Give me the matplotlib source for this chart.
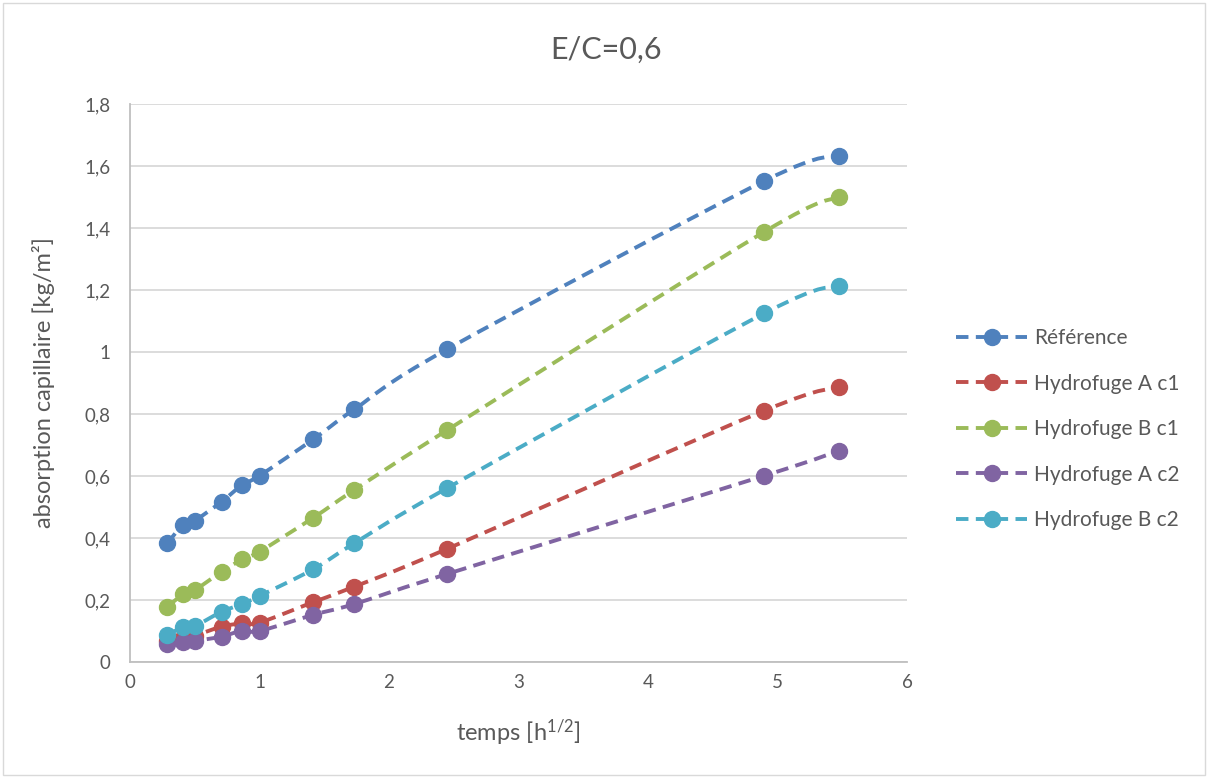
import numpy as np
import matplotlib
matplotlib.use("Agg")
import matplotlib.pyplot as plt
from matplotlib.path import Path
from matplotlib.patches import PathPatch, Rectangle
from matplotlib.lines import Line2D

plt.rcParams['font.family'] = ['Lato', 'DejaVu Sans']
plt.rcParams['mathtext.fontset'] = 'custom'
plt.rcParams['mathtext.rm'] = 'Lato'
plt.rcParams['mathtext.it'] = 'Lato'

# square root of time [h^1/2]
temps = [0.289, 0.408, 0.5, 0.707, 0.866, 1.0, 1.414, 1.732, 2.449, 4.899, 5.477]

reference = [0.383, 0.442, 0.456, 0.517, 0.571, 0.601, 0.718, 0.815, 1.009, 1.552, 1.633]
hydro_a_c1 = [0.068, 0.076, 0.085, 0.114, 0.125, 0.127, 0.193, 0.243, 0.365, 0.811, 0.886]
hydro_b_c1 = [0.178, 0.218, 0.232, 0.291, 0.331, 0.356, 0.465, 0.555, 0.748, 1.388, 1.501]
hydro_a_c2 = [0.058, 0.066, 0.068, 0.082, 0.101, 0.100, 0.152, 0.187, 0.284, 0.601, 0.682]
hydro_b_c2 = [0.087, 0.112, 0.116, 0.162, 0.187, 0.213, 0.299, 0.383, 0.561, 1.125, 1.214]

series_names = ["Référence", "Hydrofuge A c1", "Hydrofuge B c1", "Hydrofuge A c2", "Hydrofuge B c2"]
series_values = [reference, hydro_a_c1, hydro_b_c1, hydro_a_c2, hydro_b_c2]
colors = ["#4F81BD", "#C0504D", "#9BBB59", "#8064A2", "#4BACC6"]

y_ticks = [0, 0.2, 0.4, 0.6, 0.8, 1.0, 1.2, 1.4, 1.6, 1.8]
x_ticks = [0, 1, 2, 3, 4, 5, 6]

W, H = 1208, 778
fig = plt.figure(figsize=(W / 100, H / 100), dpi=100)
fig.patch.set_facecolor("white")
fig.add_artist(Rectangle((3 / W, 3 / H), 1 - 6 / W, 1 - 6 / H, transform=fig.transFigure,
                         fill=False, edgecolor="#d9d9d9", linewidth=1.0))

ax = fig.add_axes([130 / W, 1 - 662 / H, (907 - 130) / W, (662 - 104) / H])
ax.set_xlim(0, 6)
ax.set_ylim(0, 1.8)
ax.set_yticks(y_ticks)
ax.set_xticks(x_ticks)
ax.set_yticklabels([("%g" % v).replace(".", ",") for v in y_ticks])
ax.set_xticklabels([str(v) for v in x_ticks])
ax.grid(axis="y", color="#d9d9d9", linewidth=1.3)
ax.set_axisbelow(True)
for s in ["top", "right"]:
    ax.spines[s].set_visible(False)
for s in ["left", "bottom"]:
    ax.spines[s].set_color("#bfbfbf")
    ax.spines[s].set_linewidth(1.3)
ax.tick_params(axis="both", length=0, labelsize=13.5, labelcolor="#595959", pad=9)
ax.tick_params(axis="y", pad=14)


def smooth_path(xs, ys):
    # Cubic Bezier segments with Catmull-Rom style control points
    pts = np.column_stack([xs, ys])
    n = len(pts)
    verts = [pts[0]]
    codes = [Path.MOVETO]
    for i in range(n - 1):
        p0 = pts[i - 1] if i > 0 else pts[i]
        p1 = pts[i]
        p2 = pts[i + 1]
        p3 = pts[i + 2] if i + 2 < n else pts[i + 1]
        c1 = p1 + (p2 - p0) / 6.0
        c2 = p2 - (p3 - p1) / 6.0
        verts += [c1, c2, p2]
        codes += [Path.CURVE4] * 3
    return Path(verts, codes)


lw = 2.8
dash = (0, (3.2, 1.9))
for name, vals, c in zip(series_names, series_values, colors):
    patch = PathPatch(smooth_path(temps, vals), fill=False, edgecolor=c,
                      linewidth=lw, linestyle=dash, capstyle="butt", zorder=3)
    ax.add_patch(patch)
    ax.plot(temps, vals, linestyle="none", marker="o", markersize=11.5,
            color=c, zorder=4)

handles = [Line2D([0], [0], color=c, linewidth=lw, linestyle=dash, marker="o",
                  markersize=11.5) for c in colors]
fig.legend(handles, series_names, loc="upper left", bbox_to_anchor=(948 / W, 1 - 320 / H),
           frameon=False, fontsize=15, labelcolor="#595959", handlelength=3.4,
           handletextpad=0.35, labelspacing=1.22, borderaxespad=0)

fig.text(606 / W, 1 - 50 / H, "E/C=0,6", ha="center", va="center", fontsize=22,
         color="#595959")
fig.text(518 / W, 1 - 733 / H, r"temps [h$^{1/2}$]", ha="center", va="center",
         fontsize=17, color="#595959")
fig.text(44 / W, 1 - 383 / H, "absorption capillaire [kg/m²]", ha="center", va="center",
         rotation=90, fontsize=17, color="#595959")

fig.savefig("out.png", dpi=100, facecolor="white")
